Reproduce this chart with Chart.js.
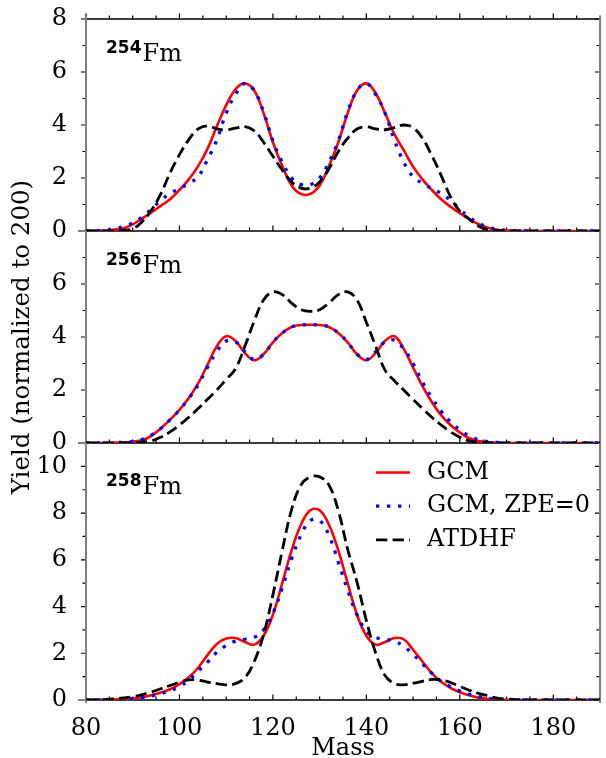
<!DOCTYPE html>
<html>
<head>
<meta charset="utf-8">
<script src="https://cdn.jsdelivr.net/npm/chart.js@4"></script>
<style>
  html, body { margin: 0; padding: 0; background: #fff; }
  #wrap { width: 606px; height: 758px; }
</style>
</head>
<body>
<div id="wrap"><canvas id="fmChart" width="606" height="758"></canvas></div>
<script>
// mass numbers (x) and yields, normalized to 200
const masses = [80, 82, 84, 86, 88, 90, 92, 94, 96, 98, 100, 102, 104, 106, 108, 110, 112, 114, 116, 118,
  120, 122, 124, 126, 128, 130, 132, 134, 136, 138, 140, 142, 144, 146, 148, 150, 152, 154, 156, 158,
  160, 162, 164, 166, 168, 170, 172, 174, 176, 178, 180, 182, 184, 186, 188, 190];

// 254Fm
const fm254Gcm = [0, 0.01, 0.02, 0.05, 0.1, 0.25, 0.47, 0.7, 0.95, 1.2, 1.55, 1.95, 2.45, 3.1, 3.95, 4.75, 5.35, 5.57, 5.3, 4.45,
  3.35, 2.45, 1.72, 1.4, 1.4, 1.72, 2.45, 3.35, 4.45, 5.3, 5.57, 5.2, 4.45, 3.65, 3.05, 2.43, 1.95, 1.55, 1.2, 0.92,
  0.67, 0.45, 0.26, 0.12, 0.05, 0.02, 0.01, 0, 0, 0, 0, 0, 0, 0, 0, 0];
const fm254Zpe = [0, 0.01, 0.03, 0.07, 0.17, 0.3, 0.52, 0.83, 1.15, 1.42, 1.6, 1.8, 2.05, 2.7, 3.43, 4.45, 5.15, 5.57, 5.3, 4.5,
  3.4, 2.6, 2.0, 1.75, 1.75, 2.0, 2.6, 3.4, 4.5, 5.3, 5.57, 5.15, 4.45, 3.43, 2.6, 2.05, 1.8, 1.6, 1.42, 1.15,
  0.83, 0.52, 0.3, 0.15, 0.07, 0.03, 0.01, 0, 0, 0, 0, 0, 0, 0, 0, 0];
const fm254Atdhf = [0, 0, 0, 0.01, 0.03, 0.08, 0.35, 0.78, 1.4, 2.2, 2.88, 3.45, 3.85, 3.97, 3.85, 3.82, 3.88, 3.94, 3.78, 3.35,
  2.82, 2.3, 1.85, 1.62, 1.62, 1.85, 2.35, 3.0, 3.5, 3.85, 3.93, 3.85, 3.82, 3.9, 4.0, 3.9, 3.5, 2.85, 2.1, 1.3,
  0.75, 0.45, 0.18, 0.06, 0.02, 0.01, 0, 0, 0, 0, 0, 0, 0, 0, 0, 0];

// 256Fm
const fm256Gcm = [0, 0, 0, 0.01, 0.02, 0.05, 0.1, 0.27, 0.55, 0.88, 1.25, 1.7, 2.25, 2.95, 3.65, 4.03, 3.85, 3.4, 3.12, 3.35,
  3.8, 4.15, 4.38, 4.45, 4.46, 4.45, 4.38, 4.15, 3.8, 3.35, 3.12, 3.4, 3.85, 4.03, 3.55, 2.85, 2.15, 1.55, 1.05, 0.68,
  0.4, 0.18, 0.07, 0.03, 0.01, 0, 0, 0, 0, 0, 0, 0, 0, 0, 0, 0];
const fm256Zpe = [0, 0, 0, 0.01, 0.03, 0.06, 0.13, 0.3, 0.55, 0.88, 1.25, 1.68, 2.2, 2.85, 3.45, 3.85, 3.82, 3.45, 3.15, 3.35,
  3.8, 4.15, 4.38, 4.45, 4.46, 4.45, 4.38, 4.15, 3.8, 3.35, 3.15, 3.45, 3.82, 3.88, 3.55, 3.0, 2.3, 1.72, 1.2, 0.8,
  0.5, 0.27, 0.12, 0.05, 0.02, 0, 0, 0, 0, 0, 0, 0, 0, 0, 0, 0];
const fm256Atdhf = [0, 0, 0, 0, 0, 0.01, 0.03, 0.08, 0.22, 0.42, 0.68, 0.97, 1.3, 1.65, 2.0, 2.4, 2.8, 3.65, 4.6, 5.4,
  5.7, 5.6, 5.28, 5.03, 4.97, 5.03, 5.28, 5.6, 5.7, 5.4, 4.55, 3.65, 2.75, 2.35, 2.0, 1.65, 1.3, 0.97, 0.68, 0.42,
  0.22, 0.08, 0.03, 0.01, 0, 0, 0, 0, 0, 0, 0, 0, 0, 0, 0, 0];

// 258Fm
const fm258Gcm = [0, 0, 0.01, 0.02, 0.04, 0.07, 0.12, 0.2, 0.32, 0.46, 0.68, 0.97, 1.38, 1.92, 2.4, 2.63, 2.65, 2.48, 2.37, 2.75,
  3.65, 5.0, 6.4, 7.5, 8.12, 8.12, 7.5, 6.4, 5.0, 3.65, 2.75, 2.37, 2.48, 2.65, 2.6, 2.15, 1.65, 1.15, 0.78, 0.52,
  0.33, 0.2, 0.1, 0.05, 0.03, 0.01, 0, 0, 0, 0, 0, 0, 0, 0, 0, 0];
const fm258Zpe = [0, 0, 0.01, 0.02, 0.04, 0.06, 0.1, 0.17, 0.27, 0.4, 0.57, 0.85, 1.25, 1.62, 2.05, 2.33, 2.52, 2.6, 2.68, 3.0,
  3.7, 4.8, 6.05, 7.05, 7.68, 7.68, 7.05, 5.9, 4.7, 3.65, 2.95, 2.68, 2.6, 2.52, 2.3, 1.95, 1.55, 1.15, 0.8, 0.57,
  0.38, 0.24, 0.14, 0.08, 0.04, 0.02, 0.01, 0, 0, 0, 0, 0, 0, 0, 0, 0];
const fm258Atdhf = [0, 0.01, 0.02, 0.05, 0.09, 0.14, 0.23, 0.34, 0.48, 0.62, 0.76, 0.86, 0.85, 0.77, 0.7, 0.65, 0.7, 0.95, 1.65, 2.8,
  4.5, 6.4, 8.15, 9.2, 9.55, 9.55, 9.2, 8.1, 6.45, 5.05, 3.4, 2.0, 1.05, 0.7, 0.65, 0.72, 0.8, 0.88, 0.86, 0.75,
  0.58, 0.42, 0.28, 0.18, 0.08, 0.04, 0.02, 0.01, 0, 0, 0, 0, 0, 0, 0, 0];

const xTickLabels = [80, 100, 120, 140, 160, 180];
const seriesNames = ['GCM', 'GCM, ZPE=0', 'ATDHF'];

const SERIF = "'DejaVu Serif', serif";
const SANS = "'DejaVu Sans', sans-serif";

const panels = [
  {axis: 'y254', iso: '254', max: 8, gcm: fm254Gcm, zpe: fm254Zpe, atdhf: fm254Atdhf},
  {axis: 'y256', iso: '256', max: 8, gcm: fm256Gcm, zpe: fm256Zpe, atdhf: fm256Atdhf},
  {axis: 'y258', iso: '258', max: 11, gcm: fm258Gcm, zpe: fm258Zpe, atdhf: fm258Atdhf},
];

const styles = [
  {color: '#ff0000', width: 2.6, dash: [], order: 2},
  {color: '#0000ff', width: 3.3, dash: [3.3, 7.7], order: 1},
  {color: '#000000', width: 2.8, dash: [11.3, 5.3], order: 0},
];

const pts = (vals) => masses.map((m, i) => ({x: m, y: vals[i]}));

const datasets = [];
panels.forEach(p => {
  [p.gcm, p.zpe, p.atdhf].forEach((vals, k) => {
    datasets.push({
      label: seriesNames[k],
      data: pts(vals),
      yAxisID: p.axis,
      borderColor: styles[k].color,
      borderWidth: styles[k].width,
      borderDash: styles[k].dash,
      order: styles[k].order,
      pointRadius: 0,
      fill: false,
      tension: 0.4,
      panel: p.iso,
    });
  });
});

// frame, ticks on all sides, isotope labels and legend
const fmFrame = {
  id: 'fmFrame',
  beforeDatasetsDraw(chart) {
    const {ctx, chartArea: a, scales} = chart;
    const xs = scales.x;
    const ys = panels.map(p => scales[p.axis]);
    const edges = [a.top].concat(ys.map(s => s.bottom));
    ctx.save();
    ctx.strokeStyle = '#000';
    ctx.lineWidth = 1.2;
    ctx.beginPath();
    for (let m = 80; m <= 190; m += 5) {
      const px = xs.getPixelForValue(m);
      const len = m % 20 === 0 ? 5.5 : 3.5;
      edges.forEach(y => { ctx.moveTo(px, y); ctx.lineTo(px, y - len); });
    }
    ys.forEach(s => {
      for (let v = 0; v <= s.max; v++) {
        const py = s.getPixelForValue(v);
        const len = v % 2 === 0 ? 5 : 3.5;
        const over = v === 0 ? 2.5 : 0;
        ctx.moveTo(a.left - len - (v === 0 ? 3 : 0), py); ctx.lineTo(a.left + over, py);
        ctx.moveTo(a.right - len, py); ctx.lineTo(a.right, py);
      }
    });
    ctx.stroke();

    ctx.lineWidth = 1.6;
    ctx.beginPath();
    edges.forEach(y => { ctx.moveTo(a.left, y); ctx.lineTo(a.right, y); });
    ctx.stroke();

    ctx.strokeStyle = '#808080';
    ctx.lineWidth = 2;
    ctx.beginPath();
    ctx.moveTo(a.left, a.top - 3); ctx.lineTo(a.left, a.bottom + 3);
    ctx.moveTo(a.right, a.top - 3); ctx.lineTo(a.right, a.bottom + 3);
    ctx.stroke();
    ctx.restore();
  },
  afterDatasetsDraw(chart) {
    const {ctx, scales} = chart;
    ctx.save();
    panels.forEach(p => {
      const s = scales[p.axis];
      const base = s.top + 0.2 * (s.bottom - s.top);
      ctx.fillStyle = '#000';
      ctx.textBaseline = 'alphabetic';
      ctx.textAlign = 'left';
      ctx.font = 'bold 17px ' + SANS;
      ctx.fillText(p.iso, 106, base - 8.5);
      const w = ctx.measureText(p.iso).width;
      ctx.font = '24px ' + SERIF;
      ctx.fillText('Fm', 106 + w + 1, base);
    });
    const s = scales.y258;
    const legendSets = chart.data.datasets.filter(d => d.panel === '258');
    legendSets.forEach((d, i) => {
      const y = s.top + 29.5 + i * 33.7;
      ctx.strokeStyle = d.borderColor;
      ctx.lineWidth = d.borderWidth;
      ctx.setLineDash(d.borderDash);
      ctx.lineCap = 'butt';
      ctx.beginPath();
      ctx.moveTo(376, y); ctx.lineTo(410, y);
      ctx.stroke();
      ctx.setLineDash([]);
      ctx.fillStyle = '#000';
      ctx.font = '24px ' + SERIF;
      ctx.textBaseline = 'middle';
      ctx.textAlign = 'left';
      ctx.fillText(d.label, 427, y);
    });
    ctx.restore();
  }
};

const tickFont = {family: SERIF, size: 24};

function yAxis(p, weight, extra) {
  return Object.assign({
    type: 'linear',
    position: 'left',
    stack: 'fm',
    stackWeight: weight,
    min: 0,
    max: p.max,
    grid: {display: false},
    border: {display: false},
    ticks: {
      stepSize: 2,
      includeBounds: false,
      autoSkip: false,
      color: '#000',
      font: tickFont,
      padding: 11,
      callback: v => (v > 10 || (p.iso === '256' && v === 8)) ? '' : v,
    },
    afterFit: sc => { sc.width = 86; sc.paddingTop = 0; sc.paddingBottom = 0; },
  }, extra || {});
}

const chart = new Chart(document.getElementById('fmChart'), {
  type: 'line',
  data: {datasets: datasets},
  options: {
    responsive: false,
    animation: false,
    layout: {padding: {top: 19, right: 6, left: 0, bottom: 0}},
    plugins: {legend: {display: false}, tooltip: {enabled: false}},
    scales: {
      x: {
        type: 'linear',
        position: 'bottom',
        min: 80,
        max: 190,
        grid: {display: false},
        border: {display: false},
        afterBuildTicks: sc => { sc.ticks = xTickLabels.map(v => ({value: v})); },
        ticks: {autoSkip: false, color: '#000', font: tickFont, padding: 6, maxRotation: 0},
        title: {display: true, text: 'Mass', color: '#000', font: {family: SERIF, size: 24, lineHeight: 1}, padding: {top: 0, bottom: -3}},
        afterFit: sc => { sc.height = 58; sc.paddingLeft = 0; sc.paddingRight = 0; },
      },
      y258: yAxis(panels[2], 257),
      y256: yAxis(panels[1], 212, {
        title: {display: true, text: 'Yield (normalized to 200)', color: '#000',
          font: {family: SERIF, size: 24.5, lineHeight: 1}, padding: {top: 10, bottom: 0}},
      }),
      y254: yAxis(panels[0], 212),
    },
  },
  plugins: [fmFrame],
});
</script>
</body>
</html>
